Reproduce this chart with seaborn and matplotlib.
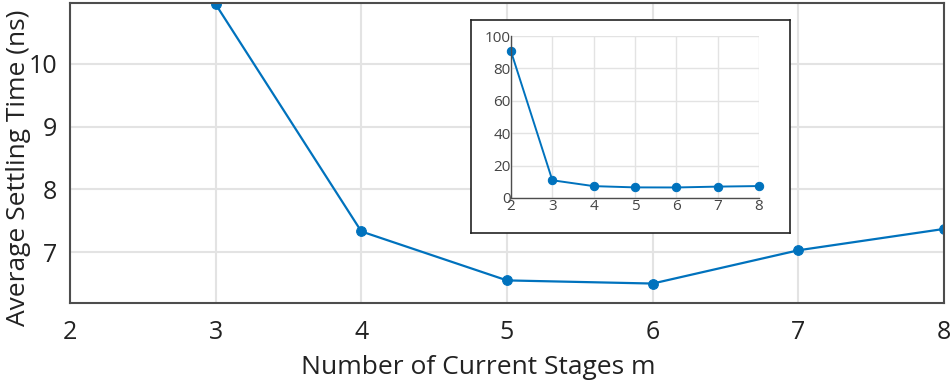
import matplotlib
matplotlib.use("Agg")
import matplotlib.pyplot as plt
import seaborn as sns
import pandas as pd

stages = [2, 3, 4, 5, 6, 7, 8]
settling_ns = [90.5, 10.95, 7.33, 6.55, 6.5, 7.03, 7.37]
main_yticks = [7, 8, 9, 10]
inset_yticks = [0, 20, 40, 60, 80, 100]

df = pd.DataFrame({"m": stages, "t": settling_ns})

sns.set_theme(style="white")
plt.rcParams['font.family'] = ['Open Sans', 'DejaVu Sans']

color = "#0072BD"
grid_c = "#e3e3e3"
spine_c = "#4d4d4d"

fig = plt.figure(figsize=(9.53, 3.85), dpi=100)
ax = fig.add_axes([70/953, 1-303/385, (944-70)/953, 300/385])

sns.lineplot(data=df, x="m", y="t", ax=ax, color=color, marker="o",
             markersize=7, linewidth=1.6, markeredgecolor=color)
ax.set_xlim(2, 8)
ax.set_ylim(6.19, 10.97)
ax.set_xticks(stages)
ax.set_yticks(main_yticks)
ax.grid(True, color=grid_c, linewidth=1.5)
ax.set_axisbelow(True)
for s in ax.spines.values():
    s.set_color(spine_c)
    s.set_linewidth(1.5)
ax.tick_params(direction="in", length=7, width=1.5, color=spine_c,
               labelsize=18, labelcolor="#222222", top=False, right=False)
ax.tick_params(axis="x", pad=12)
ax.tick_params(axis="y", pad=9)
ax.set_xlabel("Number of Current Stages m", fontsize=19, color="#222222")
ax.xaxis.set_label_coords(0.467, -0.175)
ax.set_ylabel("Average Settling Time (ns)", fontsize=19, color="#222222")
ax.yaxis.set_label_coords(-0.045, 0.45)

# inset frame
frame = fig.add_axes([471/953, 1-233/385, (790-471)/953, (233-20)/385])
frame.set_facecolor("white")
frame.set_xticks([])
frame.set_yticks([])
for s in frame.spines.values():
    s.set_color("#222222")
    s.set_linewidth(1.2)

ins = fig.add_axes([511/953, 1-198/385, (759-511)/953, (198-36)/385])
sns.lineplot(data=df, x="m", y="t", ax=ins, color=color, marker="o",
             markersize=6, linewidth=1.4, markeredgecolor=color, clip_on=False)
ins.set_xlim(2, 8)
ins.set_ylim(0, 100)
ins.set_xticks(stages)
ins.set_yticks(inset_yticks)
ins.grid(True, color=grid_c, linewidth=1.0)
ins.set_axisbelow(True)
ins.set_facecolor("white")
for side in ["top", "right"]:
    ins.spines[side].set_visible(False)
for side in ["left", "bottom"]:
    ins.spines[side].set_color(spine_c)
    ins.spines[side].set_linewidth(1.0)
ins.tick_params(direction="in", length=4, width=1.0, color=spine_c,
                labelsize=11, labelcolor="#444444", pad=1)
ins.tick_params(axis="y", pad=0)
ins.set_xlabel("")
ins.set_ylabel("")

fig.savefig("out.png", dpi=100)
